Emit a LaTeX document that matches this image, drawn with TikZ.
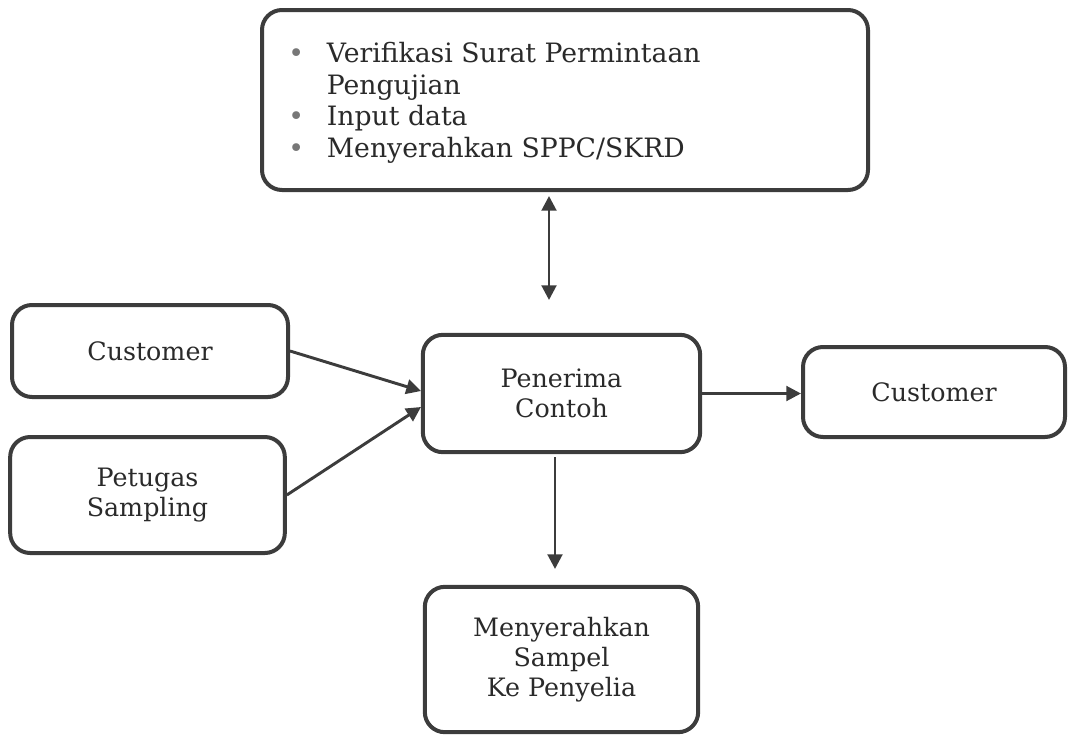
\documentclass[tikz,border=0pt]{standalone}
\usepackage{fontspec}
\setmainfont{DejaVu Serif}
\usetikzlibrary{arrows.meta}
\definecolor{ink}{HTML}{2A2A2A}
\definecolor{edge}{HTML}{3C3C3C}
\begin{document}
\begin{tikzpicture}[x=0.75pt,y=-0.75pt,
  box/.style={draw=edge,line width=3pt,rounded corners=15pt,fill=white,
    text=ink,align=center,font=\fontsize{19}{22.5}\selectfont,inner sep=0pt},
  conn/.style={draw=edge,line width=2.2pt,-{Triangle[length=11pt,width=11pt]}},
  conn2/.style={draw=edge,line width=2.2pt,{Triangle[length=11pt,width=11pt]}-{Triangle[length=11pt,width=11pt]}}]
\useasboundingbox (0,0) rectangle (1071,736);
\node[box,minimum width=454.5pt,minimum height=135pt] (top) at (565,100) {};
\node[anchor=north west,align=left,text=ink,inner sep=0pt,
  font=\fontsize{20}{23.8}\selectfont] (toptext) at (288,42)
  {\makebox[29pt][l]{\textcolor{edge!70}{•}}Verifikasi Surat Permintaan\\
   \hspace*{29pt}Pengujian\\
   \makebox[29pt][l]{\textcolor{edge!70}{•}}Input data\\
   \makebox[29pt][l]{\textcolor{edge!70}{•}}Menyerahkan SPPC/SKRD};
\node[box,minimum width=207pt,minimum height=69pt] (custL) at (150,351) {Customer};
\node[box,minimum width=206pt,minimum height=87pt] (pet) at (147.5,495) {Petugas\\Sampling};
\node[box,minimum width=208pt,minimum height=88pt] (pen) at (561.5,393.5) {Penerima\\Contoh};
\node[box,minimum width=196.5pt,minimum height=67.5pt] (custR) at (934,392) {Customer};
\node[box,minimum width=205pt,minimum height=109pt] (meny) at (561.5,659.5) {Menyerahkan\\Sampel\\Ke Penyelia};
\coordinate (da1) at (549,196);
\coordinate (da2) at (549,300);
\coordinate (in1) at (421,391);
\coordinate (in2) at (421,407);
\coordinate (dn1) at (555,457);
\coordinate (dn2) at (555,569);
\draw[conn2] (da1) -- (da2);
\draw[conn] (custL.east) -- (in1);
\draw[conn] (pet.east) -- (in2);
\draw[conn] (pen.east) -- (pen.east -| custR.west);
\draw[conn] (dn1) -- (dn2);
\end{tikzpicture}
\end{document}
